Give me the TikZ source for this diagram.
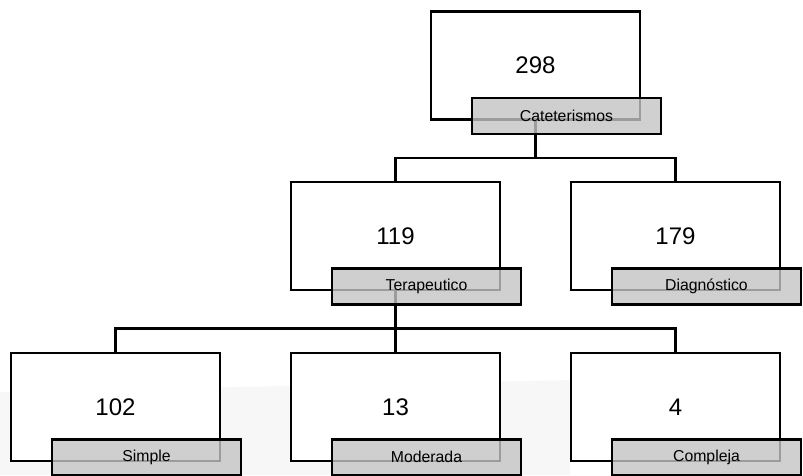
\documentclass[tikz,border=0pt]{standalone}
\usepackage{fontspec}
\setmainfont{Liberation Sans}
\usetikzlibrary{positioning}

\tikzset{
  caja/.style={draw, fill=white, line width=2.6pt, minimum width=209pt,
    minimum height=108pt, inner sep=0pt, font=\fontsize{24}{26}\selectfont},
  etiqueta/.style={draw, line width=2.6pt, fill=black!23, fill opacity=0.8,
    text opacity=1, minimum width=189pt, minimum height=36pt, inner sep=0pt,
    font=\fontsize{15.8}{17}\selectfont},
  rama/.style={line width=2.6pt}
}

\begin{document}
\begin{tikzpicture}[x=1pt,y=-1pt]
    \useasboundingbox (0,0) rectangle (803,475);

    % faint slide background
    \fill[black!3] (0,392) -- (570,380) -- (570,475) -- (0,475) -- cycle;

    \node[caja] (cat) at (535.5,65.5) {298};
    \node[caja] (ter) at (395.5,236) {119};
    \node[caja] (dia) at (675.5,236) {179};
    \node[caja] (sim) at (115.5,407) {102};
    \node[caja] (mod) at (395.5,407) {13};
    \node[caja] (com) at (675.5,407) {4};

    % branches
    \draw[rama] (cat.south) -- ++(0,37) coordinate (catb);
    \foreach \h in {ter,dia} {
      \draw[rama] (catb) -| (\h.north);
    }
    \draw[rama] (ter.south) -- ++(0,37) coordinate (terb);
    \foreach \h in {sim,mod,com} {
      \draw[rama] (terb) -| (\h.north);
    }

    % labels over the boxes
    \foreach \n/\t in {cat/Cateterismos, ter/Terapeutico, dia/Diagnóstico,
                       sim/Simple, mod/Moderada, com/Compleja} {
      \node[etiqueta] (\n l) at ([xshift=31pt,yshift=5pt]\n.south) {\t};
    }
\end{tikzpicture}
\end{document}
